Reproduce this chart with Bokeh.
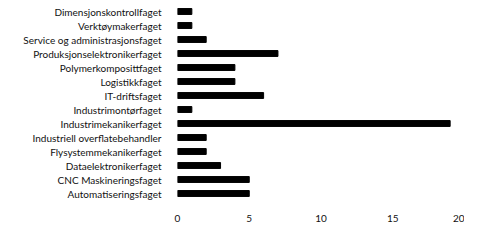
from bokeh.plotting import figure
from bokeh.models import FactorRange, Range1d, ColumnDataSource
from bokeh.embed import file_html
from bokeh.resources import INLINE

categories = [
    "Dimensjonskontrollfaget",
    "Verktøymakerfaget",
    "Service og administrasjonsfaget",
    "Produksjonselektronikerfaget",
    "Polymerkomposittfaget",
    "Logistikkfaget",
    "IT-driftsfaget",
    "Industrimontørfaget",
    "Industrimekanikerfaget",
    "Industriell overflatebehandler",
    "Flysystemmekanikerfaget",
    "Dataelektronikerfaget",
    "CNC Maskineringsfaget",
    "Automatiseringsfaget",
]
values = [1, 1, 2, 7, 4, 4, 6, 1, 19, 2, 2, 3, 5, 5]
x_ticks = [0, 5, 10, 15, 20]

source = ColumnDataSource(dict(cat=categories, val=values))

p = figure(
    width=464, height=224,
    y_range=FactorRange(factors=categories[::-1], range_padding=0),
    x_range=Range1d(0, 20),
    output_backend="svg", toolbar_location=None,
    min_border_left=177, min_border_right=0, min_border_top=4, min_border_bottom=4,
)
p.hbar(y="cat", right="val", left=0, height=0.42, source=source,
       color="black", line_color="black")

p.outline_line_color = None
p.grid.visible = False
p.xaxis.ticker = x_ticks
for ax in (p.xaxis[0], p.yaxis[0]):
    ax.axis_line_color = None
    ax.major_tick_line_color = None
    ax.minor_tick_line_color = None
    ax.major_label_text_font = "Lato"
    ax.major_label_text_color = "#111111"
p.yaxis.major_label_text_font_size = "10px"
p.xaxis.major_label_text_font_size = "10px"
p.yaxis.major_label_standoff = 10
p.xaxis.major_label_standoff = 8

open("out.html", "w").write(file_html(p, INLINE))
